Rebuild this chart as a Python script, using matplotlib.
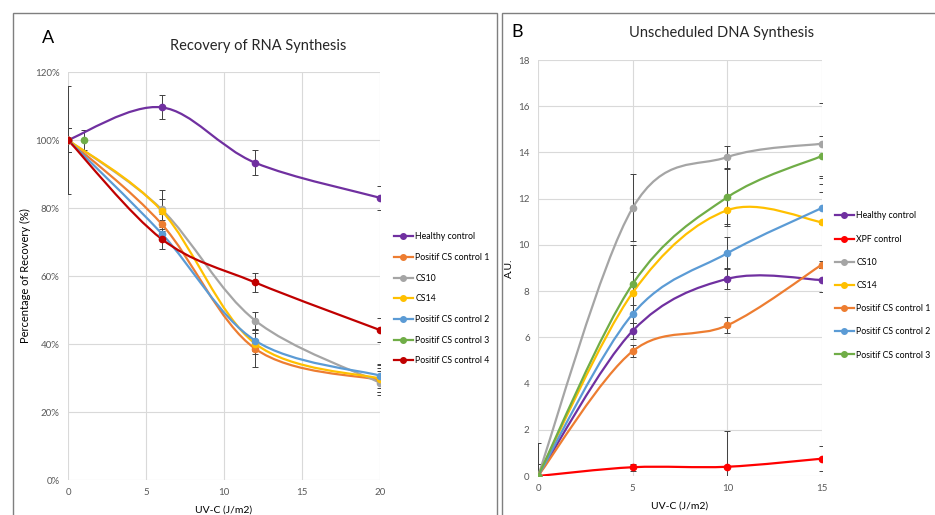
import numpy as np
import matplotlib
matplotlib.use("Agg")
import matplotlib.pyplot as plt
from matplotlib.path import Path
from matplotlib.patches import PathPatch, Rectangle
from matplotlib.lines import Line2D
from matplotlib.ticker import PercentFormatter

plt.rcParams['font.family'] = ['Lato', 'DejaVu Sans']

# ---- panel A : recovery of RNA synthesis ----
doseA = [0, 6, 12, 20]
rna_names = ['Healthy control', 'Positif CS control 1', 'CS10', 'CS14',
             'Positif CS control 2', 'Positif CS control 3', 'Positif CS control 4']
rna_colors = ['#7030A0', '#ED7D31', '#A5A5A5', '#FFC000', '#5B9BD5', '#70AD47', '#C00000']
rna_healthy = [100, 109.6, 93.3, 83.0]
rna_cs1 = [100, 75.3, 38.6, 29.4]
rna_cs10 = [100, 79.6, 46.9, 28.6]
rna_cs14 = [100, 79.2, 40.1, 29.8]
rna_cs2 = [100, 72.5, 41.0, 30.7]
rna_cs4 = [100, 70.9, 58.1, 44.1]
rna_cs3_dose = [1]
rna_cs3 = [100]
rna_err_healthy = [16, 3.5, 3.7, 3.5]
rna_err_cs1 = [3.5, 3.0, 5.5, 3.5]
rna_err_cs10 = [3.5, 3.0, 2.5, 3.5]
rna_err_cs14 = [3.5, 6.0, 3.0, 4.0]
rna_err_cs2 = [3.5, 2.0, 3.0, 3.5]
rna_err_cs4 = [3.5, 3.0, 2.8, 3.5]
rna_err_cs3 = [3.0]

# ---- panel B : unscheduled DNA synthesis ----
doseB = [0, 5, 10, 15]
uds_names = ['Healthy control', 'XPF control', 'CS10', 'CS14',
             'Positif CS control 1', 'Positif CS control 2', 'Positif CS control 3']
uds_colors = ['#7030A0', '#FF0000', '#A5A5A5', '#FFC000', '#ED7D31', '#5B9BD5', '#70AD47']
uds_healthy = [0, 6.28, 8.53, 8.48]
uds_xpf = [0, 0.38, 0.40, 0.75]
uds_cs10 = [0, 11.6, 13.8, 14.38]
uds_cs14 = [0, 7.93, 11.5, 10.98]
uds_cs1 = [0, 5.40, 6.52, 9.15]
uds_cs2 = [0, 7.01, 9.64, 11.6]
uds_cs3 = [0, 8.31, 12.06, 13.85]
uds_err_healthy = [0.5, 0.35, 0.45, 0.5]
uds_err_xpf = [0.5, 0.15, 1.53, 0.53]
uds_err_cs10 = [1.43, 1.45, 0.5, 1.75]
uds_err_cs14 = [0.5, 0.9, 0.6, 1.9]
uds_err_cs1 = [0.5, 0.25, 0.35, 0.15]
uds_err_cs2 = [0.5, 0.4, 0.7, 0.7]
uds_err_cs3 = [0.5, 1.7, 1.25, 0.85]


def smooth_path(x, y, t=1 / 6):
    # excel-style smoothed line drawn as cubic bezier segments
    pts = np.column_stack([x, y]).astype(float)
    n = len(pts)
    verts = [pts[0]]
    codes = [Path.MOVETO]
    for i in range(n - 1):
        p0 = pts[max(i - 1, 0)]
        p1 = pts[i]
        p2 = pts[i + 1]
        p3 = pts[min(i + 2, n - 1)]
        verts += [p1 + (p2 - p0) * t, p2 - (p3 - p1) * t, p2]
        codes += [Path.CURVE4] * 3
    return Path(verts, codes)


def draw_series(ax, x, y, err, color, label):
    if len(x) > 1:
        ax.add_patch(PathPatch(smooth_path(x, y), fill=False, edgecolor=color,
                               lw=1.6, zorder=3))
    ax.errorbar(x, y, yerr=err, fmt='none', ecolor='#404040', elinewidth=0.7,
                capsize=2, capthick=0.7, zorder=2)
    ax.plot(x, y, 'o', color=color, ms=4.5, zorder=4, label=label)


def style_axes(ax):
    for s in ax.spines.values():
        s.set_visible(False)
    ax.grid(True, color='#D9D9D9', lw=0.8)
    ax.set_axisbelow(True)
    ax.tick_params(length=0, labelsize=7, colors='#595959', pad=6)


fig = plt.figure(figsize=(9.35, 5.15), dpi=100)
W, H = 935, 515

# panel frames
fig.patches.append(Rectangle((13 / W, -0.05), (497 - 13) / W, (H - 13) / H + 0.05,
                             transform=fig.transFigure, fill=False,
                             edgecolor='#7F7F7F', lw=1.0))
fig.patches.append(Rectangle((502 / W, -0.05), 0.6, (H - 13) / H + 0.05,
                             transform=fig.transFigure, fill=False,
                             edgecolor='#7F7F7F', lw=1.0))

# ---- A ----
axA = fig.add_axes([68 / W, (H - 480) / H, 312 / W, 408 / H])
style_axes(axA)
draw_series(axA, doseA, rna_healthy, rna_err_healthy, rna_colors[0], rna_names[0])
draw_series(axA, doseA, rna_cs1, rna_err_cs1, rna_colors[1], rna_names[1])
draw_series(axA, doseA, rna_cs10, rna_err_cs10, rna_colors[2], rna_names[2])
draw_series(axA, doseA, rna_cs14, rna_err_cs14, rna_colors[3], rna_names[3])
draw_series(axA, doseA, rna_cs2, rna_err_cs2, rna_colors[4], rna_names[4])
draw_series(axA, rna_cs3_dose, rna_cs3, rna_err_cs3, rna_colors[5], rna_names[5])
draw_series(axA, doseA, rna_cs4, rna_err_cs4, rna_colors[6], rna_names[6])
axA.set_xlim(0, 20)
axA.set_ylim(0, 120)
axA.set_xticks([0, 5, 10, 15, 20])
axA.set_yticks(np.arange(0, 121, 20))
axA.yaxis.set_major_formatter(PercentFormatter(decimals=0))
axA.set_ylabel('Percentage of Recovery (%)', fontsize=8, labelpad=3)
axA.set_xlabel('UV-C (J/m2)', fontsize=7.5, labelpad=6)

handlesA = [Line2D([], [], color=c, lw=1.6, marker='o', ms=4) for c in rna_colors]
fig.legend(handlesA, rna_names, loc='upper left', bbox_to_anchor=(390 / W, 1 - 229 / H),
           frameon=False, fontsize=6.3, handlelength=2.2, handletextpad=0.3,
           labelspacing=1.33, borderaxespad=0)

fig.text(48 / W, 1 - 38 / H, 'A', fontsize=13, ha='center', va='center')
fig.text(258 / W, 1 - 46 / H, 'Recovery of RNA Synthesis', fontsize=10.5,
         ha='center', va='center', color='#262626')

# ---- B ----
axB = fig.add_axes([538 / W, (H - 476) / H, 284 / W, 416 / H])
style_axes(axB)
draw_series(axB, doseB, uds_healthy, uds_err_healthy, uds_colors[0], uds_names[0])
draw_series(axB, doseB, uds_xpf, uds_err_xpf, uds_colors[1], uds_names[1])
draw_series(axB, doseB, uds_cs10, uds_err_cs10, uds_colors[2], uds_names[2])
draw_series(axB, doseB, uds_cs14, uds_err_cs14, uds_colors[3], uds_names[3])
draw_series(axB, doseB, uds_cs1, uds_err_cs1, uds_colors[4], uds_names[4])
draw_series(axB, doseB, uds_cs2, uds_err_cs2, uds_colors[5], uds_names[5])
draw_series(axB, doseB, uds_cs3, uds_err_cs3, uds_colors[6], uds_names[6])
axB.set_xlim(0, 15)
axB.set_ylim(0, 18)
axB.set_xticks([0, 5, 10, 15])
axB.set_yticks(np.arange(0, 19, 2))
axB.set_ylabel('A.U.', fontsize=7.5, labelpad=3)
axB.set_xlabel('UV-C (J/m2)', fontsize=7.5, labelpad=6)

handlesB = [Line2D([], [], color=c, lw=1.6, marker='o', ms=4) for c in uds_colors]
fig.legend(handlesB, uds_names, loc='upper left', bbox_to_anchor=(831 / W, 1 - 208 / H),
           frameon=False, fontsize=6.3, handlelength=2.2, handletextpad=0.3,
           labelspacing=1.62, borderaxespad=0)

fig.text(517 / W, 1 - 32 / H, 'B', fontsize=13, ha='center', va='center')
fig.text(722 / W, 1 - 33 / H, 'Unscheduled DNA Synthesis', fontsize=10.5,
         ha='center', va='center', color='#262626')

fig.savefig('out.png', dpi=100)
